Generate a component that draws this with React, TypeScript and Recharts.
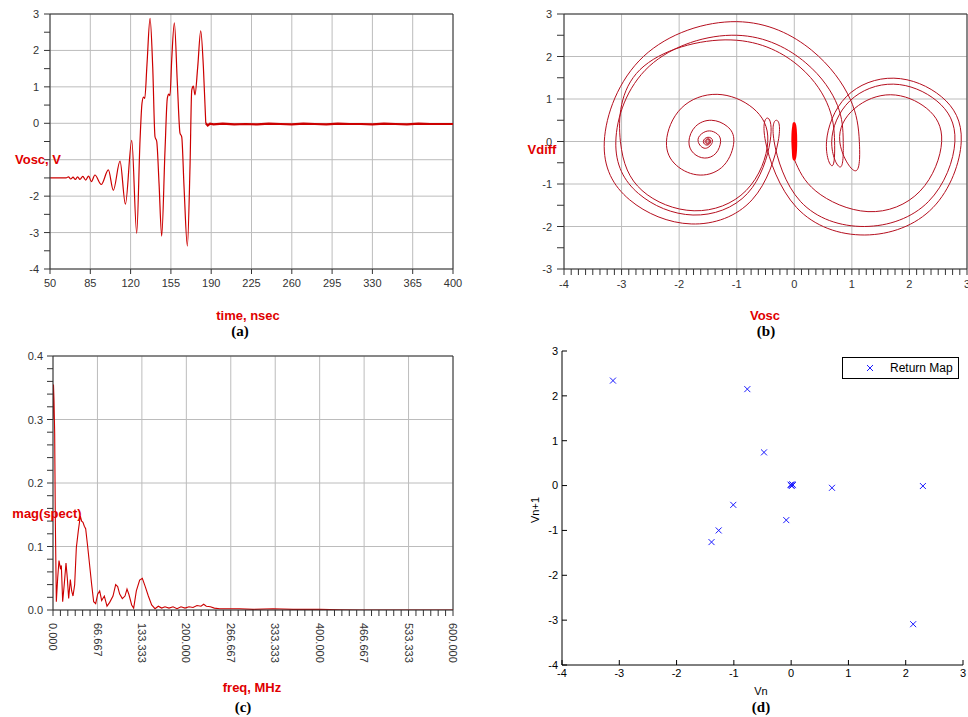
import { CartesianGrid, Line, LineChart, ReferenceLine, Scatter, ScatterChart, XAxis, YAxis } from 'recharts'

type Pt = [number, number]

// (a) Vosc transient  [time nsec, V]
const oscBurst: Pt[] = [
  [50, -1.5], [64, -1.5], [66, -1.47], [68, -1.53], [70, -1.48], [72, -1.54], [74, -1.47],
  [76, -1.54], [78.5, -1.46], [81, -1.56], [83.5, -1.45], [86, -1.6], [89, -1.42],
  [94.5, -1.68], [100.7, -1.28], [105, -1.84], [110.8, -1.04], [115.5, -2.22], [121, -0.47],
  [125.3, -3.02], [128.2, -0.46], [129.9, 0.55], [131.2, 0.72], [132.3, 0.68], [134.2, 1.6],
  [136.9, 2.88], [139.2, 1.55], [141.2, -0.37], [142.7, -0.5], [144.7, -1.65], [147, -3.1],
  [149.9, -0.73], [151.9, 0.69], [153.2, 0.8], [154.2, 0.76], [155.7, 1.74], [158, 2.76],
  [160.6, 1.1], [162.9, -0.27], [164.4, -0.37], [166.4, -1.74], [169.3, -3.37], [171.6, -1.19],
  [173.1, 0.91], [174.5, 1.02], [175.9, 0.78], [178.3, 1.55], [180.9, 2.54], [183.2, 1.55],
  [185.3, 0.0],
]
const oscSettled: Pt[] = [
  [185.3, 0.0], [187, -0.06], [189, -0.01], [192, -0.03], [200, -0.01], [210, -0.03],
  [220, -0.02], [230, -0.03], [240, -0.01], [250, -0.02], [260, -0.03], [270, -0.01],
  [280, -0.02], [290, -0.03], [300, -0.01], [310, -0.02], [320, -0.02], [330, -0.03],
  [340, -0.01], [350, -0.02], [360, -0.03], [370, -0.01], [380, -0.02], [390, -0.02], [400, -0.02],
]
const timeTicks = [50, 85, 120, 155, 190, 225, 260, 295, 330, 365, 400]
const voltTicks = [-4, -3.5, -3, -2.5, -2, -1.5, -1, -0.5, 0, 0.5, 1, 1.5, 2, 2.5, 3]
const voltGrid = [-4, -3, -2, -1, 0, 1, 2, 3]

// (b) phase portrait  [Vosc, Vdiff]
const spiralPts: Pt[] = [
  [-1.5, 0], [-1.485, 0.02], [-1.47, 0], [-1.5, -0.04], [-1.53, 0], [-1.495, 0.045], [-1.46, 0],
  [-1.505, -0.06], [-1.55, 0], [-1.5, 0.065], [-1.45, 0], [-1.515, -0.085], [-1.58, 0],
  [-1.5, 0.1], [-1.42, 0], [-1.545, -0.16], [-1.67, 0],
  [-1.613, 0.177], [-1.475, 0.25], [-1.337, 0.177], [-1.28, 0],
  [-1.361, -0.276], [-1.555, -0.39], [-1.749, -0.276], [-1.83, 0],
  [-1.716, 0.354], [-1.44, 0.5], [-1.164, 0.354], [-1.05, 0],
  [-1.221, -0.559], [-1.635, -0.79], [-2.049, -0.559], [-2.22, 0],
  [-1.962, 0.785], [-1.34, 1.11], [-0.718, 0.785], [-0.46, 0],
  [-0.835, -1.152], [-1.74, -1.63], [-2.645, -1.152], [-3.02, 0],
]
const loopOnePts: Pt[] = [
  [-2.68, 1.69], [-1.1, 2.39], [0.1, 1.75], [0.6, 0.8], [0.7, 0],
  [0.66, -0.57], [0.56, 0],
  [0.903, 1.053], [1.73, 1.49], [2.557, 1.053], [2.9, 0],
  [2.409, -1.555], [1.225, -2.2], [0.041, -1.555], [-0.5, 0],
  [-0.46, 0.55], [-0.42, 0],
  [-0.813, -1.223], [-1.76, -1.73], [-2.707, -1.223], [-3.1, 0],
]
const loopTwoPts: Pt[] = [
  [-2.52, 1.77], [-1.0, 2.5], [0.2, 1.85], [0.75, 0.85], [0.85, 0],
  [0.8, -0.6], [0.65, 0],
  [0.964, 0.954], [1.72, 1.35], [2.476, 0.954], [2.79, 0],
  [2.33, -1.414], [1.22, -2.0], [0.11, -1.414], [-0.35, 0],
  [-0.31, 0.5], [-0.28, 0],
  [-0.733, -1.372], [-1.79, -1.94], [-2.86, -1.372], [-3.3, 0],
]
const loopThreePts: Pt[] = [
  [-2.62, 2.0], [-1.0, 2.82], [0.3, 2.15], [0.97, 1.0], [1.13, 0],
  [1.06, -0.69], [0.79, 0],
  [1.049, 0.778], [1.675, 1.1], [2.301, 0.778], [2.56, 0],
  [2.185, -1.167], [1.28, -1.65], [0.375, -1.167], [0.0, -0.42],
]
const settlePts: Pt[] = [
  [0, -0.42], [0.02, 0], [0, 0.42], [-0.02, 0], [0, -0.42], [0.025, 0], [0, 0.4], [-0.025, 0], [0, -0.4],
]
const voscTicks = [-4, -3, -2, -1, 0, 1, 2, 3]
const vdiffTicks = [-3, -2.5, -2, -1.5, -1, -0.5, 0, 0.5, 1, 1.5, 2, 2.5, 3]
const vdiffGrid = [-3, -2, -1, 0, 1, 2, 3]

// (c) spectrum  [freq MHz, mag]
const spectrum: Pt[] = [
  [0, 0.3], [0.7, 0.355], [1.5, 0.33], [2.5, 0.28], [3.5, 0.14], [5, 0.013], [7, 0.05], [9, 0.078],
  [11, 0.066], [12.5, 0.07], [14.5, 0.013], [17, 0.042], [19.5, 0.074], [21.5, 0.05], [23.5, 0.018],
  [26, 0.048], [28, 0.03], [30, 0.022], [32.5, 0.04], [35, 0.098], [38, 0.125], [41, 0.148],
  [43, 0.14], [45, 0.138], [47, 0.132], [49, 0.128], [52, 0.1], [55, 0.07], [58, 0.04], [61, 0.013],
  [64, 0.01], [67, 0.025], [70, 0.03], [73, 0.015], [77, 0.022], [81, 0.006], [85, 0.012],
  [90, 0.022], [94, 0.04], [97, 0.037], [100, 0.025], [104, 0.018], [108, 0.022], [111, 0.033],
  [114, 0.024], [118, 0.008], [121, 0.003], [125, 0.03], [130, 0.047], [134, 0.05], [138, 0.038],
  [143, 0.022], [148, 0.008], [153, 0.002], [158, 0.006], [163, 0.003], [168, 0.005], [174, 0.003],
  [180, 0.005], [186, 0.002], [192, 0.005], [198, 0.003], [204, 0.005], [210, 0.004], [216, 0.007],
  [222, 0.006], [226, 0.009], [230, 0.006], [236, 0.005], [242, 0.003], [250, 0.002], [260, 0.002],
  [280, 0.002], [300, 0.001], [330, 0.002], [360, 0.001], [400, 0.001], [430, 0.0005], [460, 0], [600, 0],
]
const freqGrid = [0, 66.667, 133.333, 200, 266.667, 333.333, 400, 466.667, 533.333, 600]
const magGrid = [0, 0.1, 0.2, 0.3, 0.4]

// (d) return map
const vnVals = [-3.11, -0.765, -0.474, 0.0, 0.713, 2.3, -1.01, -0.085, -1.265, -1.39, 2.13, 0.02, 0.03, -0.01, 0.01]
const vn1Vals = [2.34, 2.15, 0.74, 0.01, -0.05, -0.01, -0.43, -0.77, -1.0, -1.26, -3.09, 0.03, 0.01, 0.02, -0.01]
const mapTicks = [-4, -3, -2, -1, 0, 1, 2, 3]

const RED = '#cc0000'
const LABEL_RED = '#e00000'
const SANS = '"Liberation Sans", Arial, sans-serif'
const SERIF = '"Liberation Serif", "Times New Roman", serif'
const GRID = '#bcbcbc'
const AXIS = '#333'

const toXY = (pts: Pt[]) => pts.map(([x, y]) => ({ x, y }))
const steps = (a: number, b: number, n: number) => Array.from({ length: n + 1 }, (_, i) => a + ((b - a) * i) / n)
const near = (v: number, unit: number) => Math.abs(v / unit - Math.round(v / unit)) < 1e-6

const tickFont = { fontSize: 11, fill: AXIS, fontFamily: SANS }

// labels only on major ticks; `hidden` values sit under the red axis title in the reference
const leftTick = (unit: number, fmt: (v: number) => string, hidden: number[] = []) => (p: any) =>
  near(p.payload.value, unit) && !hidden.includes(p.payload.value) ? (
    <text x={p.x} y={p.y} dy={4} textAnchor="end" {...tickFont}>{fmt(p.payload.value)}</text>
  ) : <g />

const bottomTick = (unit: number) => (p: any) =>
  near(p.payload.value, unit) ? (
    <text x={p.x} y={p.y} dy={8} textAnchor="middle" {...tickFont}>{p.payload.value}</text>
  ) : <g />

const freqTick = (p: any) =>
  near(p.payload.value, 200 / 3) ? (
    <text x={p.x} y={p.y} dy="0.35em" textAnchor="start" transform={`rotate(90 ${p.x} ${p.y})`} {...tickFont}>
      {p.payload.value.toFixed(3)}
    </text>
  ) : <g />

const Cross = (p: any) => (
  <path
    d={`M${p.cx - 3},${p.cy - 3}L${p.cx + 3},${p.cy + 3}M${p.cx - 3},${p.cy + 3}L${p.cx + 3},${p.cy - 3}`}
    stroke="#1a1aff"
    strokeWidth={1}
    fill="none"
  />
)

function Caption({ x, y, text, kind, rotate }: { x: number; y: number; text: string; kind: 'axis' | 'panel' | 'plain'; rotate?: number }) {
  const look =
    kind === 'axis'
      ? { color: LABEL_RED, fontWeight: 700, fontSize: 13, fontFamily: SANS }
      : kind === 'panel'
        ? { color: '#000', fontWeight: 700, fontSize: 15, fontFamily: SERIF }
        : { color: '#000', fontSize: 11, fontFamily: SANS }
  return (
    <div
      style={{
        position: 'absolute',
        left: x,
        top: y,
        transform: `translate(-50%, -50%) rotate(${rotate ?? 0}deg)`,
        whiteSpace: 'nowrap',
        lineHeight: 1,
        ...look,
      }}
    >
      {text}
    </div>
  )
}

export default function App() {
  return (
    <div style={{ position: 'absolute', left: 0, top: 0, width: 968, height: 717, background: '#fff', overflow: 'hidden' }}>
      {/* (a) */}
      <div style={{ position: 'absolute', left: 0, top: 0 }}>
        <LineChart width={470} height={300} margin={{ top: 14, right: 17, bottom: 11, left: 10 }}>
          <CartesianGrid stroke={GRID} horizontalValues={voltGrid} verticalValues={timeTicks} />
          <XAxis type="number" dataKey="x" domain={[50, 400]} ticks={timeTicks} interval={0} allowDataOverflow
            height={20} tickSize={5} tickMargin={5} stroke={AXIS} tick={tickFont} />
          <YAxis type="number" domain={[-4, 3]} ticks={voltTicks} interval={0} allowDataOverflow
            width={40} tickSize={6} tickMargin={5} stroke={AXIS} tick={leftTick(1, String, [-1])} />
          <ReferenceLine y={3} stroke={AXIS} />
          <ReferenceLine x={400} stroke={AXIS} />
          <Line data={toXY(oscBurst)} dataKey="y" type="monotone" stroke={RED} strokeWidth={1.2} dot={false} isAnimationActive={false} />
          <Line data={toXY(oscSettled)} dataKey="y" type="linear" stroke={RED} strokeWidth={2.2} dot={false} isAnimationActive={false} />
        </LineChart>
      </div>

      {/* (b) */}
      <div style={{ position: 'absolute', left: 488, top: 0 }}>
        <LineChart width={480} height={300} margin={{ top: 14, right: 1, bottom: 11, left: 36 }}>
          <CartesianGrid stroke={GRID} horizontalValues={vdiffGrid} verticalValues={voscTicks} />
          <XAxis type="number" dataKey="x" domain={[-4, 3]} ticks={steps(-4, 3, 56)} interval={0} allowDataOverflow
            height={20} tickSize={6} tickMargin={5} stroke={AXIS} tick={bottomTick(1)} />
          <YAxis type="number" domain={[-3, 3]} ticks={vdiffTicks} interval={0} allowDataOverflow
            width={40} tickSize={7} tickMargin={5} stroke={AXIS} tick={leftTick(1, String)} />
          <ReferenceLine y={3} stroke={AXIS} />
          <ReferenceLine x={3} stroke={AXIS} />
          <Line data={toXY([...spiralPts, ...loopOnePts, ...loopTwoPts, ...loopThreePts])} dataKey="y" type="natural"
            stroke="#b50f1f" strokeWidth={1} dot={false} isAnimationActive={false} />
          <Line data={toXY(settlePts)} dataKey="y" type="natural" stroke="#ff0000" strokeWidth={3} dot={false} isAnimationActive={false} />
        </LineChart>
      </div>

      {/* (c) */}
      <div style={{ position: 'absolute', left: 0, top: 342 }}>
        <LineChart width={470} height={330} margin={{ top: 14, right: 17, bottom: 6, left: 13 }}>
          <CartesianGrid stroke={GRID} horizontalValues={magGrid} verticalValues={freqGrid} />
          <XAxis type="number" dataKey="x" domain={[0, 600]} ticks={steps(0, 600, 54)} interval={0} allowDataOverflow
            height={56} tickSize={6} tickMargin={7} stroke={AXIS} tick={freqTick} />
          <YAxis type="number" domain={[0, 0.4]} ticks={steps(0, 0.4, 20)} interval={0} allowDataOverflow
            width={40} tickSize={6} tickMargin={4} stroke={AXIS} tick={leftTick(0.1, (v) => v.toFixed(1))} />
          <ReferenceLine y={0.4} stroke={AXIS} />
          <ReferenceLine x={600} stroke={AXIS} />
          <Line data={toXY(spectrum)} dataKey="y" type="linear" stroke={RED} strokeWidth={1.1} dot={false} isAnimationActive={false} />
        </LineChart>
      </div>

      {/* (d) */}
      <div style={{ position: 'absolute', left: 488, top: 340 }}>
        <ScatterChart width={480} height={377} margin={{ top: 11, right: 5, bottom: 30, left: 44 }}>
          <XAxis type="number" dataKey="x" domain={[-4, 3]} ticks={mapTicks} interval={0} allowDataOverflow
            height={22} tickSize={-5} tickMargin={9} stroke="#000" tick={{ ...tickFont, fill: '#000' }} />
          <YAxis type="number" dataKey="y" domain={[-4, 3]} ticks={mapTicks} interval={0} allowDataOverflow
            width={30} tickSize={-5} tickMargin={9} stroke="#000" tick={{ ...tickFont, fill: '#000' }} />
          <XAxis xAxisId="top" orientation="top" type="number" domain={[-4, 3]} ticks={mapTicks} interval={0}
            allowDataOverflow height={0} tickSize={-5} tick={false} stroke="#000" />
          <YAxis yAxisId="right" orientation="right" type="number" domain={[-4, 3]} ticks={mapTicks} interval={0}
            allowDataOverflow width={0} tickSize={-5} tick={false} stroke="#000" />
          <Scatter data={vnVals.map((x, i) => ({ x, y: vn1Vals[i] }))} shape={Cross} isAnimationActive={false} />
        </ScatterChart>
      </div>

      <Caption x={38} y={159} text="Vosc, V" kind="axis" />
      <Caption x={248} y={315} text="time, nsec" kind="axis" />
      <Caption x={240} y={331} text="(a)" kind="panel" />

      <Caption x={542} y={149} text="Vdiff" kind="axis" />
      <Caption x={765} y={315} text="Vosc" kind="axis" />
      <Caption x={766} y={331} text="(b)" kind="panel" />

      <Caption x={47} y={513} text="mag(spect)" kind="axis" />
      <Caption x={252} y={687} text="freq, MHz" kind="axis" />
      <Caption x={243} y={707} text="(c)" kind="panel" />

      <Caption x={535} y={510} text="Vn+1" kind="plain" rotate={-90} />
      <Caption x={761} y={691} text="Vn" kind="plain" />
      <Caption x={761} y={707} text="(d)" kind="panel" />

      <div style={{ position: 'absolute', left: 842, top: 357, width: 115, height: 20, border: '1px solid #000', background: '#fff' }}>
        <svg width={20} height={20} style={{ position: 'absolute', left: 17, top: 0 }}>
          <path d="M7,7L13,13M7,13L13,7" stroke="#1a1aff" strokeWidth={1} />
        </svg>
        <div style={{ position: 'absolute', left: 47, top: 3, fontSize: 12, fontFamily: SANS, color: '#000', whiteSpace: 'nowrap' }}>
          Return Map
        </div>
      </div>
    </div>
  )
}
